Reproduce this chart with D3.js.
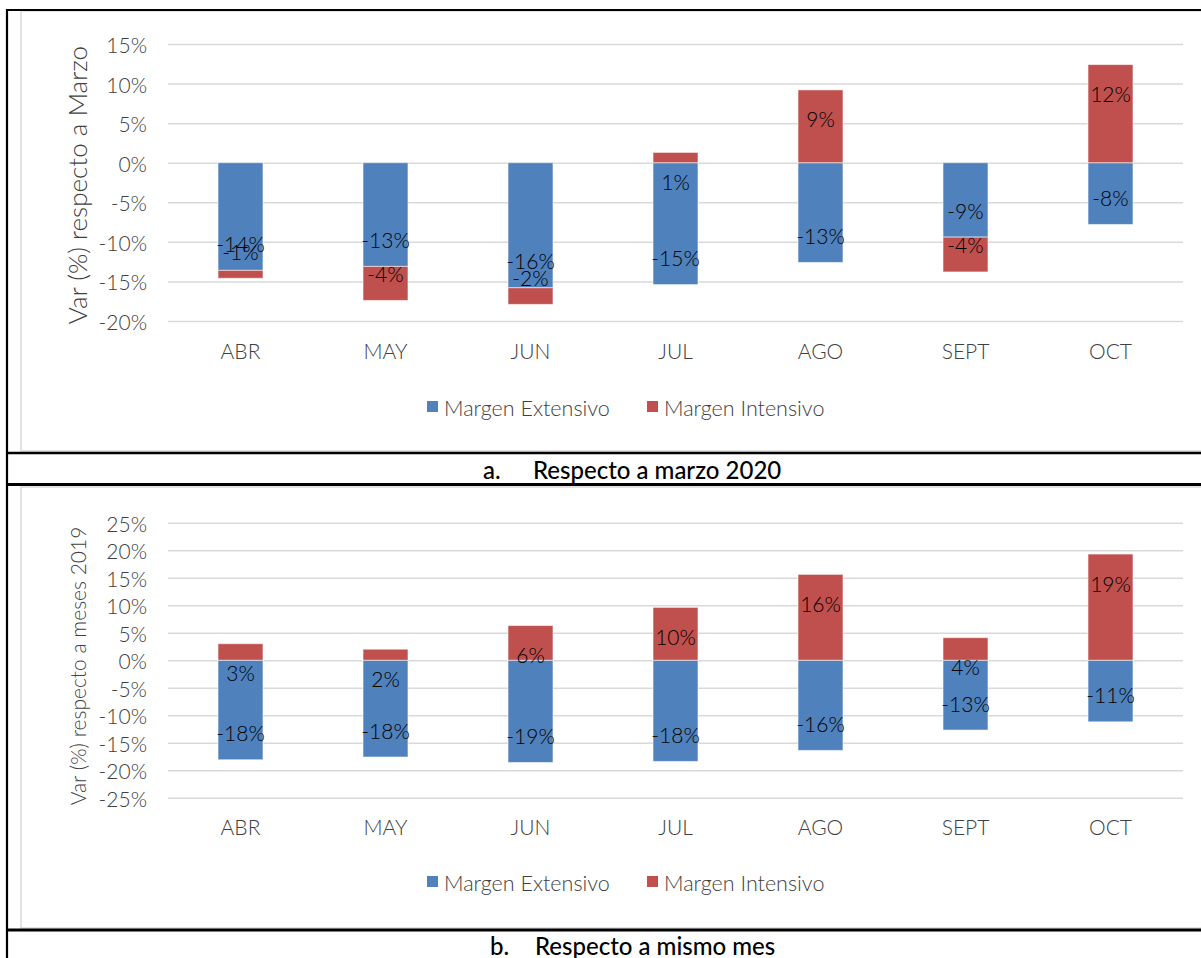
<!DOCTYPE html>
<html>
<head>
<meta charset="utf-8">
<script src="https://cdn.jsdelivr.net/npm/d3@7"></script>
<style>
  html, body { margin: 0; padding: 0; background: #fff; }
  svg { display: block; }
  text { font-family: "Lato", "Open Sans", sans-serif; }
</style>
</head>
<body>
<svg id="chart" width="1201" height="958"></svg>
<script>
// ---- data ----
const months = ["ABR", "MAY", "JUN", "JUL", "AGO", "SEPT", "OCT"];
const seriesNames = ["Margen Extensivo", "Margen Intensivo"];
// Panel a: variation with respect to March 2020 (%)
const extensivoMarzo = [-13.6, -13.1, -15.8, -15.4, -12.6, -9.4, -7.8];
const intensivoMarzo = [-1.0, -4.3, -2.1, 1.3, 9.2, -4.4, 12.4];
// Panel b: variation with respect to same month 2019 (%)
const extensivoMes = [-18.1, -17.6, -18.6, -18.4, -16.4, -12.7, -11.2];
const intensivoMes = [3.0, 2.0, 6.3, 9.6, 15.6, 4.1, 19.3];
const ticksA = [-20, -15, -10, -5, 0, 5, 10, 15];
const ticksB = [-25, -20, -15, -10, -5, 0, 5, 10, 15, 20, 25];
const titleA = "Var (%) respecto a Marzo";
const titleB = "Var (%) respecto a meses 2019";
const captionA = ["a.", "Respecto a marzo 2020"];
const captionB = ["b.", "Respecto a mismo mes"];

const colors = ["#4f81bd", "#c0504d"];
const textGray = "#404040";
const svg = d3.select("#chart");

// ---- frame lines (table borders) ----
const frame = svg.append("g");
frame.append("rect").attr("x", 21).attr("y", 11).attr("width", 1200).attr("height", 440)
  .attr("fill", "none").attr("stroke", "#d9d9d9").attr("stroke-width", 1.5);
frame.append("rect").attr("x", 21).attr("y", 487).attr("width", 1200).attr("height", 441)
  .attr("fill", "none").attr("stroke", "#d9d9d9").attr("stroke-width", 1.5);
const blk = [
  [7, 9, 7, 958, 2.2],
  [6, 10, 1201, 10, 2],
  [6, 453, 1201, 453, 2.5],
  [6, 484.5, 1201, 484.5, 3],
  [6, 930, 1201, 930, 3]
];
blk.forEach(d => frame.append("line").attr("x1", d[0]).attr("y1", d[1]).attr("x2", d[2]).attr("y2", d[3])
  .attr("stroke", "#000").attr("stroke-width", d[4]));

function panel(cfg) {
  const g = svg.append("g");
  const x = d3.scaleBand().domain(months).range([168, 1183]).paddingInner(0.69).paddingOuter(0.345);
  const y = d3.scaleLinear().domain(cfg.domain).range(cfg.range);

  const yAxis = d3.axisLeft(y).tickValues(cfg.ticks).tickSize(-(1183 - 168)).tickFormat(d => d + "%");
  const ga = g.append("g").attr("transform", "translate(168,0)").call(yAxis);
  ga.select(".domain").remove();
  ga.selectAll(".tick line").attr("stroke", "#d9d9d9").attr("stroke-width", 1.5);
  ga.selectAll(".tick text").attr("x", -21).attr("dy", null).attr("dominant-baseline", "central")
    .attr("fill", textGray).style("font-size", "21px").style("font-weight", 300)
    .style("font-family", "Lato, sans-serif");

  const rows = months.map((m, i) => ({ month: m, ext: cfg.ext[i], int: cfg.int[i] }));
  const stack = d3.stack().keys(["ext", "int"]).offset(d3.stackOffsetDiverging);
  const layers = stack(rows);

  layers.forEach((layer, li) => {
    g.append("g").selectAll("rect").data(layer).join("rect")
      .attr("x", d => x(d.data.month))
      .attr("width", x.bandwidth())
      .attr("y", d => y(Math.max(d[0], d[1])))
      .attr("height", d => Math.abs(y(d[0]) - y(d[1])))
      .attr("fill", colors[li])
      .attr("stroke", "#ffffff").attr("stroke-opacity", 0.55).attr("stroke-width", 1);
  });

  layers.forEach((layer, li) => {
    const key = layer.key;
    g.append("g").selectAll("text").data(layer).join("text")
      .attr("x", d => x(d.data.month) + x.bandwidth() / 2)
      .attr("y", d => {
        const v = d.data[key];
        return v >= 0 ? y(d[1]) + 29 : y(d[0]) - 27;
      })
      .attr("text-anchor", "middle").attr("dominant-baseline", "central")
      .attr("fill", "#000").style("font-size", "21px").style("font-weight", 300)
      .text(d => Math.round(d.data[key]) + "%");
  });

  const xAxis = d3.axisBottom(x).tickSize(0);
  const gx = g.append("g").attr("transform", `translate(0,${cfg.catY})`).call(xAxis);
  gx.select(".domain").remove();
  gx.selectAll(".tick text").attr("y", 0).attr("dy", null).attr("dominant-baseline", "central")
    .attr("fill", textGray).style("font-size", "21px").style("font-weight", 300)
    .style("font-family", "Lato, sans-serif");

  g.append("text").attr("transform", `translate(77,${cfg.titleY}) rotate(-90)`)
    .attr("text-anchor", "middle").attr("dominant-baseline", "central")
    .attr("fill", textGray).style("font-size", cfg.titleSize + "px").style("font-weight", 300)
    .text(cfg.title);

  const lg = g.append("g").attr("transform", `translate(0,${cfg.legY})`);
  const legX = [427, 647];
  seriesNames.forEach((s, i) => {
    lg.append("rect").attr("x", legX[i]).attr("y", -7).attr("width", 11).attr("height", 11).attr("fill", colors[i]);
    lg.append("text").attr("x", legX[i] + 17).attr("y", 0).attr("dominant-baseline", "central")
      .attr("fill", textGray).style("font-size", "21.5px").style("font-weight", 300).text(s);
  });

  const cg = g.append("g").attr("transform", `translate(0,${cfg.capY})`);
  cg.append("text").attr("x", cfg.capX[0]).attr("y", 0).attr("dominant-baseline", "central")
    .attr("fill", "#000").style("font-size", "24px").style("font-weight", 500).text(cfg.caption[0]);
  cg.append("text").attr("x", cfg.capX[1]).attr("y", 0).attr("dominant-baseline", "central")
    .attr("fill", "#000").style("font-size", "24px").style("font-weight", 500).text(cfg.caption[1]);
}

panel({
  domain: [-20, 15], range: [321, 44], ticks: ticksA,
  ext: extensivoMarzo, int: intensivoMarzo,
  catY: 350, title: titleA, titleY: 185, titleSize: 26,
  legY: 408, caption: captionA, capY: 469, capX: [483, 533]
});
panel({
  domain: [-25, 25], range: [797.7, 522.7], ticks: ticksB,
  ext: extensivoMes, int: intensivoMes,
  catY: 826, title: titleB, titleY: 666, titleSize: 21,
  legY: 883, caption: captionB, capY: 945, capX: [490, 535]
});
</script>
</body>
</html>
